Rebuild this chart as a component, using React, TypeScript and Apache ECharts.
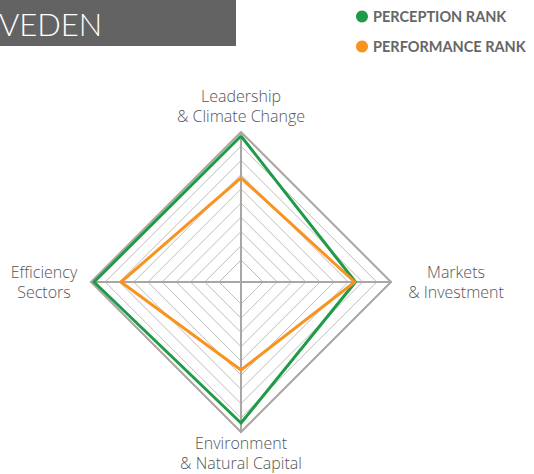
import React, { useEffect, useRef } from "react";
import * as echarts from "echarts";

const indicatorNames = [
  "Leadership\n& Climate Change",
  "Efficiency\nSectors",
  "Environment\n& Natural Capital",
  "Markets\n& Investment",
];
const seriesNames = ["PERCEPTION RANK", "PERFORMANCE RANK"];
const perception = [8.72, 8.79, 8.37, 6.5];
const performance = [5.77, 6.89, 4.64, 6.45];
const titleText = "VEDEN";

const GREEN = "#1f9b48";
const ORANGE = "#f7931e";

export default function App() {
  const ref = useRef<HTMLDivElement>(null);
  useEffect(() => {
    if (!ref.current) return;
    const chart = echarts.init(ref.current, null, { renderer: "svg" });
    const cx = 241;
    const cy = 282;
    const R = 150;
    const font = "Lato";
    const nameFont = "Open Sans";
    const nameStyle = {
      fill: "#555555",
      fontFamily: nameFont,
      fontSize: 16,
      fontWeight: 300,
      lineHeight: 20,
      align: "center",
      verticalAlign: "middle",
    } as any;
    const namePos = [
      [cx, cy - R - 26],
      [cx - R - 47, cy],
      [cx, cy + R + 21],
      [cx + R + 65, cy],
    ];
    chart.setOption({
      animation: false,
      legend: {
        orient: "vertical",
        left: 356,
        top: 9,
        padding: 0,
        itemGap: 15,
        itemWidth: 12,
        itemHeight: 12,
        icon: "circle",
        data: seriesNames,
        textStyle: {
          color: "#666666",
          fontFamily: font,
          fontWeight: "bold",
          fontSize: 14.5,
        },
        selectedMode: false,
      },
      radar: [
        {
          center: [cx, cy],
          radius: [22, R],
          shape: "polygon",
          splitNumber: 9,
          indicator: indicatorNames.map((n) => ({ name: n, min: 0, max: 9 })),
          axisName: { show: false },
          axisLine: { show: false },
          axisTick: { show: false },
          splitArea: { show: false },
          splitLine: { lineStyle: { color: "#c0bdbb", width: 1 } },
        },
        {
          center: [cx, cy],
          radius: R,
          shape: "polygon",
          splitNumber: 1,
          indicator: indicatorNames.map((n) => ({ name: n, min: 0, max: 1 })),
          axisName: { show: false },
          axisLine: { show: true, lineStyle: { color: "#aaa6a3", width: 2 } },
          axisTick: { show: false },
          splitArea: { show: false },
          splitLine: { lineStyle: { color: "#aaa6a3", width: 2 } },
        },
      ],
      series: [
        {
          type: "radar",
          radarIndex: 0,
          name: seriesNames[0],
          symbol: "none",
          itemStyle: { color: GREEN },
          lineStyle: { color: GREEN, width: 3 },
          z: 3,
          data: [{ name: seriesNames[0], value: perception }],
        },
        {
          type: "radar",
          radarIndex: 0,
          name: seriesNames[1],
          symbol: "none",
          itemStyle: { color: ORANGE },
          lineStyle: { color: ORANGE, width: 3 },
          z: 3,
          data: [{ name: seriesNames[1], value: performance }],
        },
      ],
      graphic: [
        {
          type: "rect",
          shape: { x: 0, y: 0, width: 236, height: 46 },
          style: { fill: "#636363" },
          silent: true,
        },
        {
          type: "text",
          x: -1,
          y: 24,
          style: {
            text: titleText,
            fill: "#ffffff",
            fontFamily: font,
            fontSize: 31,
            fontWeight: 300,
            verticalAlign: "middle",
            align: "left",
          },
          silent: true,
        },
        ...indicatorNames.map((n, i) => ({
          type: "text",
          x: namePos[i][0],
          y: namePos[i][1],
          style: { ...nameStyle, text: n },
          silent: true,
        })),
      ],
    });
    return () => chart.dispose();
  }, []);
  return (
    <div
      ref={ref}
      style={{ position: "fixed", left: 0, top: 0, width: 534, height: 474, background: "#ffffff" }}
    />
  );
}
